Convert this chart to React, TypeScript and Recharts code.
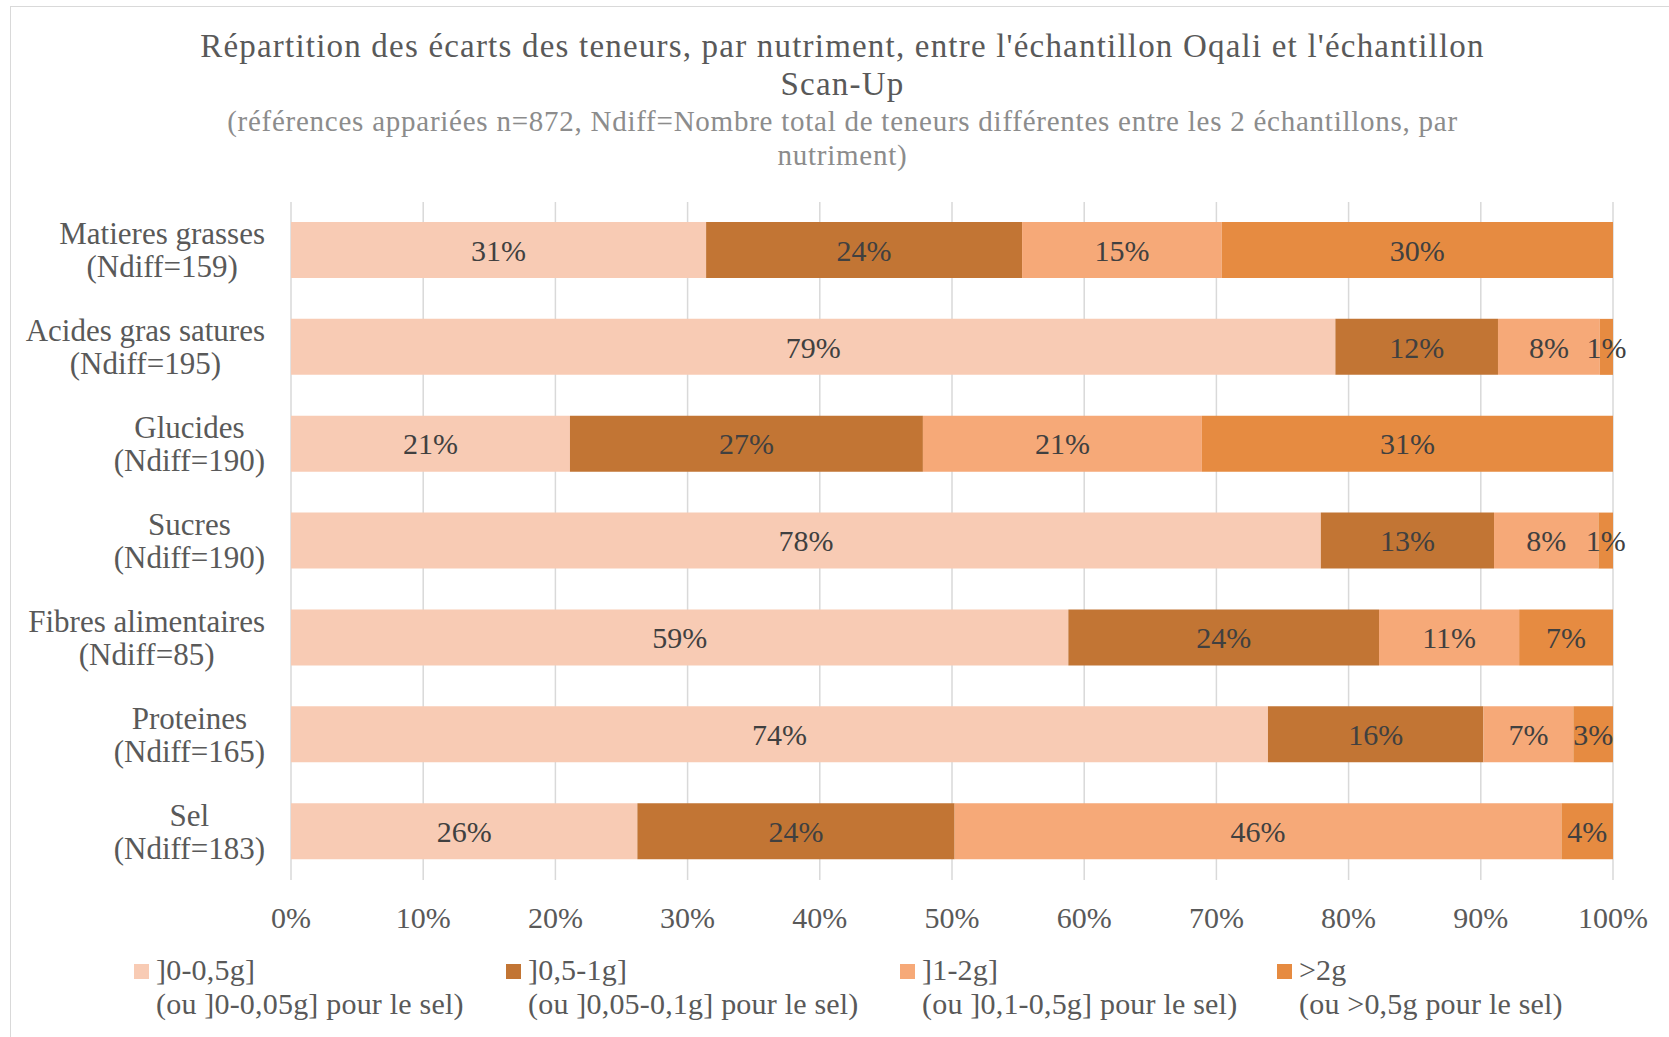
import { BarChart, Bar, XAxis, YAxis, CartesianGrid, LabelList } from 'recharts';

const categories = ['Matieres grasses', 'Acides gras satures', 'Glucides', 'Sucres', 'Fibres alimentaires', 'Proteines', 'Sel'];
const ndiff = [159, 195, 190, 190, 85, 165, 183];

// part des teneurs (%) par classe d'écart
const ecart0_05 = [31.4, 79.0, 21.1, 77.9, 58.8, 73.9, 26.2];
const ecart05_1 = [23.9, 12.3, 26.7, 13.1, 23.5, 16.3, 24.0];
const ecart1_2 = [15.1, 7.7, 21.1, 7.9, 10.6, 6.8, 45.9];
const ecartSup2 = [29.6, 1.0, 31.1, 1.1, 7.1, 3.0, 3.9];

const xTicks = [0, 10, 20, 30, 40, 50, 60, 70, 80, 90, 100];

const seriesNames = [']0-0,5g]', ']0,5-1g]', ']1-2g]', '>2g'];
const seriesNotes = [
  '(ou ]0-0,05g] pour le sel)',
  '(ou ]0,05-0,1g] pour le sel)',
  '(ou ]0,1-0,5g] pour le sel)',
  '(ou >0,5g pour le sel)',
];
const colors = ['#F8CBB4', '#C27534', '#F6A978', '#E68B41'];

const data = categories.map((name, i) => ({
  name,
  label: `(Ndiff=${ndiff[i]})`,
  s1: ecart0_05[i],
  s2: ecart05_1[i],
  s3: ecart1_2[i],
  s4: ecartSup2[i],
}));

const FONT = '"Liberation Serif", serif';

let ctx: CanvasRenderingContext2D | null = null;
function measure(text: string, size: number) {
  if (!ctx) ctx = document.createElement('canvas').getContext('2d');
  if (!ctx) return text.length * size * 0.45;
  ctx.font = `${size}px "Liberation Serif"`;
  return ctx.measureText(text).width;
}

const CategoryTick = ({ x, y, payload }: any) => {
  const d = data[payload.index];
  const w = Math.max(measure(d.name, 31), measure(d.label, 31));
  const cx = x - 18 - w / 2;
  return (
    <text x={cx} y={y} textAnchor="middle" fill="#595959" fontSize={31} fontFamily={FONT}>
      <tspan x={cx} dy={-6}>{d.name}</tspan>
      <tspan x={cx} dy={33}>{d.label}</tspan>
    </text>
  );
};

const pct = (v: any) => `${Math.round(Number(v))}%`;

export default function App() {
  const keys = ['s1', 's2', 's3', 's4'];
  const legendX = [134, 506, 900, 1277];
  return (
    <div style={{ position: 'absolute', left: 0, top: 0, width: 1669, height: 1037, background: '#fff', overflow: 'hidden', fontFamily: FONT }}>
      <div style={{ position: 'absolute', left: 10, top: 6, width: 1700, height: 1100, borderLeft: '1px solid #D9D9D9', borderTop: '1px solid #D9D9D9' }} />

      {/* Titre */}
      <div style={{ position: 'absolute', left: 0, width: 1685, top: 27, textAlign: 'center', fontSize: 33, letterSpacing: 1.2, lineHeight: '38px', color: '#595959' }}>
        Répartition des écarts des teneurs, par nutriment, entre l'échantillon Oqali et l'échantillon
        <br />
        Scan-Up
      </div>
      <div style={{ position: 'absolute', left: 0, width: 1685, top: 104, textAlign: 'center', fontSize: 29, letterSpacing: 0.75, lineHeight: '34px', color: '#8C8C8C' }}>
        (références appariées n=872, Ndiff=Nombre total de teneurs différentes entre les 2 échantillons, par
        <br />
        nutriment)
      </div>

      <div style={{ position: 'absolute', left: 0, top: 0 }}>
        <BarChart
          width={1669}
          height={1037}
          data={data}
          layout="vertical"
          margin={{ top: 202, right: 56, bottom: 97, left: 11 }}
          barSize={56}
        >
          <CartesianGrid vertical horizontal={false} stroke="#D9D9D9" strokeWidth={1.5} />
          <XAxis
            type="number"
            domain={[0, 100]}
            ticks={xTicks}
            tickFormatter={(v) => `${v}%`}
            axisLine={false}
            tickLine={false}
            tickMargin={21}
            height={60}
            tick={{ fill: '#595959', fontSize: 30, fontFamily: FONT }}
          />
          <YAxis
            type="category"
            dataKey="name"
            width={280}
            axisLine={false}
            tickLine={false}
            tick={<CategoryTick />}
          />
          {keys.map((k, i) => (
            <Bar key={k} dataKey={k} stackId="a" fill={colors[i]} isAnimationActive={false}>
              <LabelList dataKey={k} position="center" formatter={pct} fill="#404040" fontSize={30} fontFamily={FONT} />
            </Bar>
          ))}
        </BarChart>
      </div>

      {/* Légende */}
      {seriesNames.map((n, i) => (
        <div key={n} style={{ position: 'absolute', left: legendX[i], top: 953, color: '#595959', fontSize: 30, letterSpacing: 0.2, lineHeight: '34px' }}>
          <div style={{ position: 'absolute', left: 0, top: 11, width: 15, height: 15, background: colors[i] }} />
          <div style={{ marginLeft: 22, whiteSpace: 'nowrap' }}>
            {n}
            <br />
            {seriesNotes[i]}
          </div>
        </div>
      ))}
    </div>
  );
}
